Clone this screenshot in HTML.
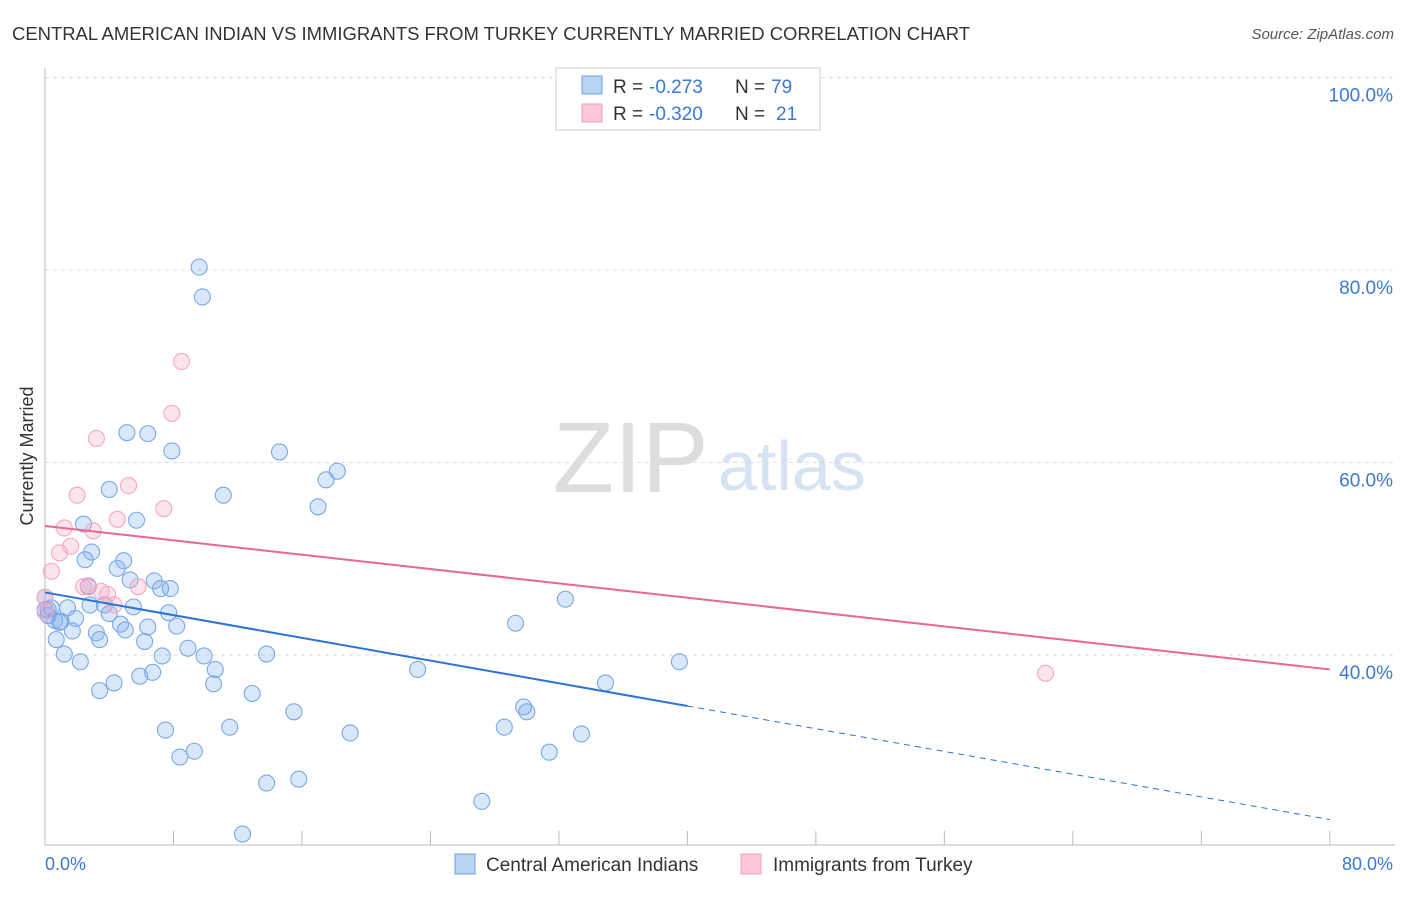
<!DOCTYPE html>
<html><head><meta charset="utf-8"><style>
body{margin:0;background:#fff;font-family:"Liberation Sans",sans-serif;}
svg text{font-family:"Liberation Sans",sans-serif;}
</style></head><body>
<svg width="1406" height="892" xmlns="http://www.w3.org/2000/svg">
<text x="12" y="40" font-size="18" fill="#333" textLength="958" lengthAdjust="spacingAndGlyphs">CENTRAL AMERICAN INDIAN VS IMMIGRANTS FROM TURKEY CURRENTLY MARRIED CORRELATION CHART</text>
<text x="1394" y="39" font-size="15" fill="#555" font-style="italic" text-anchor="end">Source: ZipAtlas.com</text>
<text x="553" y="492" font-size="100" fill="#ddd" font-family="Liberation Serif">ZIP</text>
<text x="718" y="490" font-size="70" fill="#d6e3f3">atlas</text>
<g id="grid"></g>
<g id="axes"></g>
<g id="pts"></g>
<g id="trend"></g>
<text transform="translate(33,456) rotate(-90)" font-size="18" fill="#333" text-anchor="middle">Currently Married</text>
<text x="45" y="870" font-size="18" fill="#3b78d4">0.0%</text>
<text x="1393" y="870" font-size="18" fill="#3b78d4" text-anchor="end">80.0%</text>
<g>
<rect x="556" y="68" width="264" height="62" fill="#fff" stroke="#ccc"/>
<rect x="582" y="76" width="20" height="18" fill="#b9d3f5" stroke="#6a9fe0"/>
<rect x="582" y="104" width="20" height="18" fill="#fac8d8" stroke="#f0a0bc"/>
<text x="613" y="93" font-size="19" fill="#333">R =</text>
<text x="649" y="93" font-size="19" fill="#3b78d4">-0.273</text>
<text x="735" y="93" font-size="19" fill="#333">N =</text>
<text x="771" y="93" font-size="19" fill="#3b78d4">79</text>
<text x="613" y="120" font-size="19" fill="#333">R =</text>
<text x="649" y="120" font-size="19" fill="#3b78d4">-0.320</text>
<text x="735" y="120" font-size="19" fill="#333">N =</text>
<text x="776" y="120" font-size="19" fill="#3b78d4">21</text>
</g>
<g>
<rect x="455" y="854" width="20" height="20" fill="#b9d3f5" stroke="#6a9fe0"/>
<text x="486" y="871" font-size="19" fill="#333">Central American Indians</text>
<rect x="741" y="854" width="20" height="20" fill="#fac8d8" stroke="#f0a0bc"/>
<text x="773" y="871" font-size="19" fill="#333">Immigrants from Turkey</text>
</g>
</svg>
<script>
const yTicks=[40,60,80,100];
const yTickLabels=["40.0%","60.0%","80.0%","100.0%"];
const blueX=[9.6,9.8,5.1,6.4,7.9,14.6,18.2,17.5,11.1,4.0,17.0,5.7,2.4,2.9,2.5,4.9,4.5,5.3,6.8,7.2,7.8,2.7,32.4,0,0.2,1.4,2.8,3.7,5.5,4.0,7.7,0.6,0.9,1.9,4.7,6.4,8.2,29.3,1.7,5.0,3.2,0.7,3.4,6.2,8.9,1.2,9.9,13.8,7.3,2.2,39.5,10.6,23.2,6.7,5.9,4.3,10.5,34.9,3.4,12.9,29.8,15.5,30.0,11.5,7.5,19.0,28.6,33.4,9.3,8.4,31.4,15.8,13.8,27.2,12.3,0,0.2,0.4,1.0];
const blueY=[80.3,77.2,63.1,63.0,61.2,61.1,59.1,58.2,56.6,57.2,55.4,54.0,53.6,50.7,49.9,49.8,49.0,47.8,47.7,46.9,46.9,47.1,45.8,46.0,44.7,44.9,45.2,45.2,45.0,44.3,44.4,43.6,43.4,43.8,43.2,42.9,43.0,43.3,42.5,42.6,42.3,41.6,41.6,41.4,40.7,40.1,39.9,40.1,39.9,39.3,39.3,38.5,38.5,38.2,37.8,37.1,37.0,37.1,36.3,36.0,34.6,34.1,34.1,32.5,32.2,31.9,32.5,31.8,30.0,29.4,29.9,27.1,26.7,24.8,21.4,44.7,44.1,44.9,43.5];
const pinkX=[8.5,7.9,3.2,5.2,2.0,7.4,4.5,1.2,3.0,1.6,0.9,0.4,2.7,2.4,3.5,3.9,5.8,4.3,0,62.3,0];
const pinkY=[70.5,65.1,62.5,57.6,56.6,55.2,54.1,53.2,52.9,51.3,50.6,48.7,47.2,47.1,46.6,46.3,47.1,45.2,46.0,38.1,44.5];
const blueTrend=[46.5,22.9]; // values at x=0 and x=80
const pinkTrend=[53.4,38.5];
const blueSolidEnd=40;
const X=v=>45+v*16.06, Y=v=>655-(v-40)*9.625;
const NS="http://www.w3.org/2000/svg";
function mk(tag,attrs,parent){const e=document.createElementNS(NS,tag);for(const k in attrs)e.setAttribute(k,attrs[k]);document.getElementById(parent).appendChild(e);return e;}
yTicks.forEach((t,i)=>{
 const l=mk('line',{x1:45,x2:1395,y1:Y(t),y2:Y(t),stroke:'#ddd','stroke-dasharray':'4,4'},'grid');
 
 
 const tx=mk('text',{x:1393,y:Y(t)+24,'font-size':19,fill:'#3b78d4','text-anchor':'end'},'grid');
 tx.textContent=yTickLabels[i];
 
 
});
let a=mk('line',{x1:45,x2:45,y1:68,y2:845,stroke:'#bbb'},'axes');


a=mk('line',{x1:45,x2:1395,y1:845,y2:845,stroke:'#bbb'},'axes');


for(let i=0;i<=10;i++){
 const t=mk('line',{x1:X(i*8),x2:X(i*8),y1:831,y2:845,stroke:'#bbb'},'axes');
 
 
}
function dots(xs,ys,fill,stroke,name){xs.forEach((x,i)=>{
 const c=mk('circle',{cx:X(x),cy:Y(ys[i]),r:8,fill:fill,stroke:stroke,'stroke-width':1.1},'pts');
 
 
});}
dots(blueX,blueY,'rgba(130,175,238,0.3)','#7aa8e4','central-american-indian-point');
dots(pinkX,pinkY,'rgba(245,165,195,0.3)','#f2a8c2','turkey-immigrant-point');
const bAt=x=>blueTrend[0]+(blueTrend[1]-blueTrend[0])*x/80;
let l=mk('line',{x1:X(0),y1:Y(bAt(0)),x2:X(blueSolidEnd),y2:Y(bAt(blueSolidEnd)),stroke:'#2f72d6','stroke-width':2},'trend');


l=mk('line',{x1:X(blueSolidEnd),y1:Y(bAt(blueSolidEnd)),x2:X(80),y2:Y(bAt(80)),stroke:'#2f72d6','stroke-width':1,'stroke-dasharray':'6,5'},'trend');


l=mk('line',{x1:X(0),y1:Y(pinkTrend[0]),x2:X(80),y2:Y(pinkTrend[1]),stroke:'#e8688f','stroke-width':2},'trend');


</script>
</body></html>
